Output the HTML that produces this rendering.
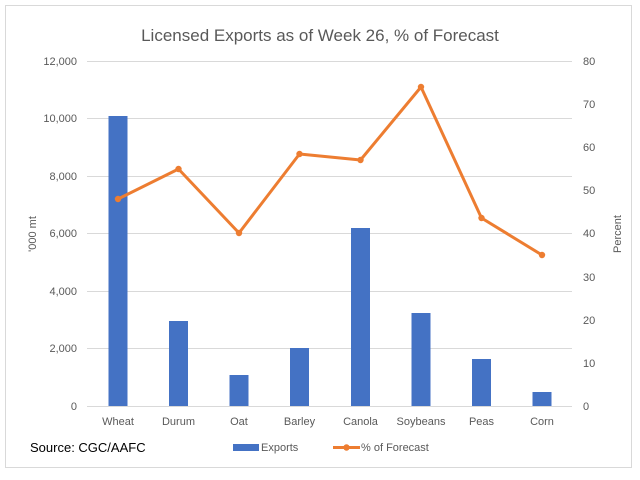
<!DOCTYPE html>
<html><head><meta charset="utf-8"><style>
body{margin:0;background:#fff;}
svg{display:block;font-family:"Liberation Sans",sans-serif;}
</style></head><body>
<svg width="640" height="480" viewBox="0 0 640 480">
<rect x="0" y="0" width="640" height="480" fill="#fff"/>
<rect x="5.5" y="5.5" width="626" height="462" fill="#fff" stroke="#d9d9d9"/>
<text x="320" y="41" text-anchor="middle" font-size="17" fill="#595959">Licensed Exports as of Week 26, % of Forecast</text>
<g stroke="#d9d9d9" stroke-width="1">
<line x1="87" x2="572" y1="61.5" y2="61.5"/>
<line x1="87" x2="572" y1="118.5" y2="118.5"/>
<line x1="87" x2="572" y1="176.5" y2="176.5"/>
<line x1="87" x2="572" y1="233.5" y2="233.5"/>
<line x1="87" x2="572" y1="291.5" y2="291.5"/>
<line x1="87" x2="572" y1="348.5" y2="348.5"/>
<line x1="87" x2="572" y1="406.5" y2="406.5"/>
</g>
<g font-size="11" fill="#595959" text-anchor="end">
<text x="77" y="65">12,000</text>
<text x="77" y="122">10,000</text>
<text x="77" y="180">8,000</text>
<text x="77" y="237">6,000</text>
<text x="77" y="295">4,000</text>
<text x="77" y="352">2,000</text>
<text x="77" y="410">0</text>
</g>
<g font-size="11" fill="#595959" text-anchor="start">
<text x="583" y="65">80</text>
<text x="583" y="108">70</text>
<text x="583" y="151">60</text>
<text x="583" y="194">50</text>
<text x="583" y="237">40</text>
<text x="583" y="281">30</text>
<text x="583" y="324">20</text>
<text x="583" y="367">10</text>
<text x="583" y="410">0</text>
</g>
<text transform="translate(36,234) rotate(-90)" text-anchor="middle" font-size="11" fill="#595959">'000 mt</text>
<text transform="translate(621,234) rotate(-90)" text-anchor="middle" font-size="11" fill="#595959">Percent</text>
<g fill="#4472c4">
<rect x="108.5" y="116" width="19" height="290"/>
<rect x="169" y="321" width="19" height="85"/>
<rect x="229.5" y="375" width="19" height="31"/>
<rect x="290" y="348" width="19" height="58"/>
<rect x="351" y="228" width="19" height="178"/>
<rect x="411.5" y="313" width="19" height="93"/>
<rect x="472" y="359" width="19" height="47"/>
<rect x="532.5" y="392" width="19" height="14"/>
</g>
<polyline fill="none" stroke="#ed7d31" stroke-width="3" stroke-linejoin="round" points="118,199 178.5,169 239,233 299.5,154 360.5,160 421,87 481.5,218 542,255"/>
<g fill="#ed7d31">
<circle cx="118" cy="199" r="3.2"/><circle cx="178.5" cy="169" r="3.2"/><circle cx="239" cy="233" r="3.2"/><circle cx="299.5" cy="154" r="3.2"/><circle cx="360.5" cy="160" r="3.2"/><circle cx="421" cy="87" r="3.2"/><circle cx="481.5" cy="218" r="3.2"/><circle cx="542" cy="255" r="3.2"/>
</g>
<g font-size="11" fill="#595959" text-anchor="middle">
<text x="118" y="425">Wheat</text>
<text x="178.5" y="425">Durum</text>
<text x="239" y="425">Oat</text>
<text x="299.5" y="425">Barley</text>
<text x="360.5" y="425">Canola</text>
<text x="421" y="425">Soybeans</text>
<text x="481.5" y="425">Peas</text>
<text x="542" y="425">Corn</text>
</g>
<text x="30" y="452" font-size="13" fill="#000">Source: CGC/AAFC</text>
<rect x="233" y="444" width="26" height="7" fill="#4472c4"/>
<text x="261" y="451" font-size="11" fill="#595959">Exports</text>
<line x1="333" x2="360" y1="447.5" y2="447.5" stroke="#ed7d31" stroke-width="3"/>
<circle cx="346.5" cy="447.5" r="3.2" fill="#ed7d31"/>
<text x="361" y="451" font-size="11" fill="#595959">% of Forecast</text>
</svg>
</body></html>
